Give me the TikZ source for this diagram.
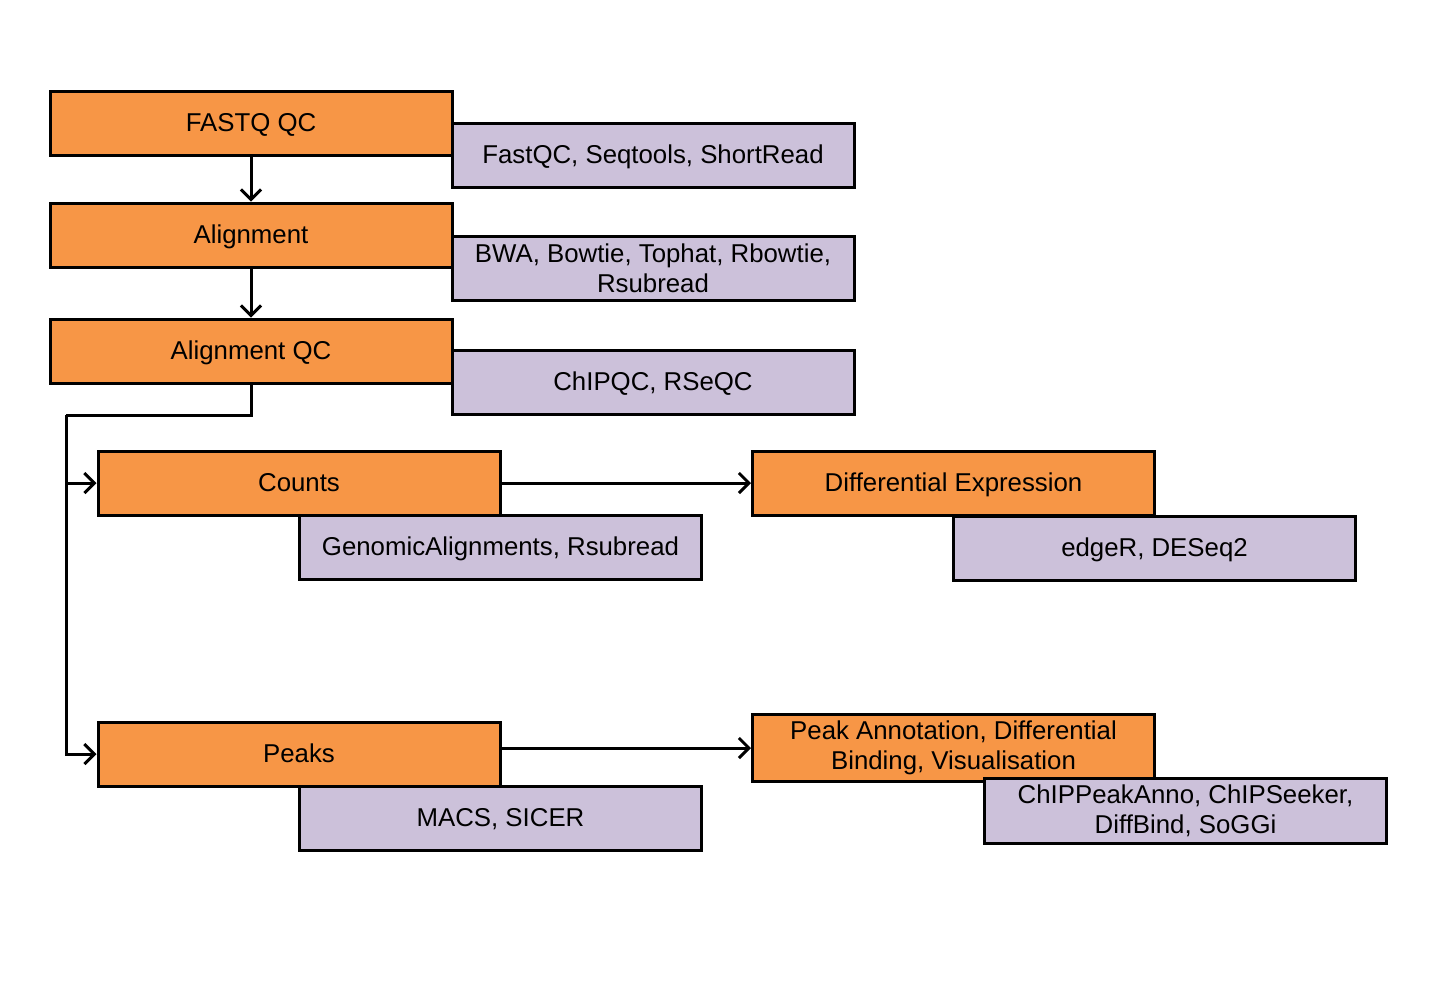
\documentclass[tikz,border=0pt]{standalone}
\usepackage{fontspec}
\setmainfont{Liberation Sans}
\usetikzlibrary{arrows.meta}
\definecolor{steporange}{HTML}{F79646}
\definecolor{toollilac}{HTML}{CCC1DA}
\begin{document}
\begin{tikzpicture}[x=0.5pt,y=-0.5pt,
every node/.style={anchor=center,
line width=1.5pt,
minimum width = 201pt,
minimum height = 32pt,
align=center,
font=\fontsize{12.9}{15}\selectfont,
draw
},
stage/.style={%
fill=steporange,
},
tools/.style={%
fill=toollilac,
},
oneline/.style={%
text height=0.8em,text depth=0pt
},
link/.style={line width=1.5pt,-{Straight Barb[length=5pt,width=10pt,line width=1.5pt]}}]
\useasboundingbox (0,0) rectangle (1440,997);
\node[stage,oneline]at(251,123)(fastq){FASTQ QC};
\node[stage,oneline]at(251,235)(align){Alignment};
\node[stage,oneline]at(251,351)(alignqc){Alignment QC};
\node[stage,oneline]at(299,483)(counts){Counts};
\node[stage,oneline]at(953.5,483)(diffexp){Differential Expression};
\node[stage,oneline]at(299,754)(peaks){Peaks};
\node[stage,minimum height=31pt]at(953.5,748)(annot){Peak Annotation, Differential\\Binding, Visualisation};
\node[tools,oneline]at(653,155)(fastqtools){FastQC, Seqtools, ShortRead};
\node[tools]at(653,268)(aligntools){BWA, Bowtie, Tophat, Rbowtie,\\Rsubread};
\node[tools,oneline]at(653,382)(qctools){ChIPQC, RSeQC};
\node[tools,oneline]at(500.5,547)(countstools){GenomicAlignments, Rsubread};
\node[tools,oneline]at(1154.5,548)(detools){edgeR, DESeq2};
\node[tools,oneline]at(500.5,818)(peakstools){MACS, SICER};
\node[tools]at(1185.5,811)(annottools){ChIPPeakAnno, ChIPSeeker,\\DiffBind, SoGGi};
\coordinate (split) at (66,415);
\draw [link] (fastq)--(align);
\draw [link] (align)--(alignqc);
\draw [line width=1.5pt] (alignqc.south)|-(split);
\draw [link] (split)|-(counts.west);
\draw [link] (split)|-(peaks.west);
\draw [link] (counts)--(diffexp);
\draw [link] (peaks.east|-annot.west)--(annot.west);
\end{tikzpicture}
\end{document}
